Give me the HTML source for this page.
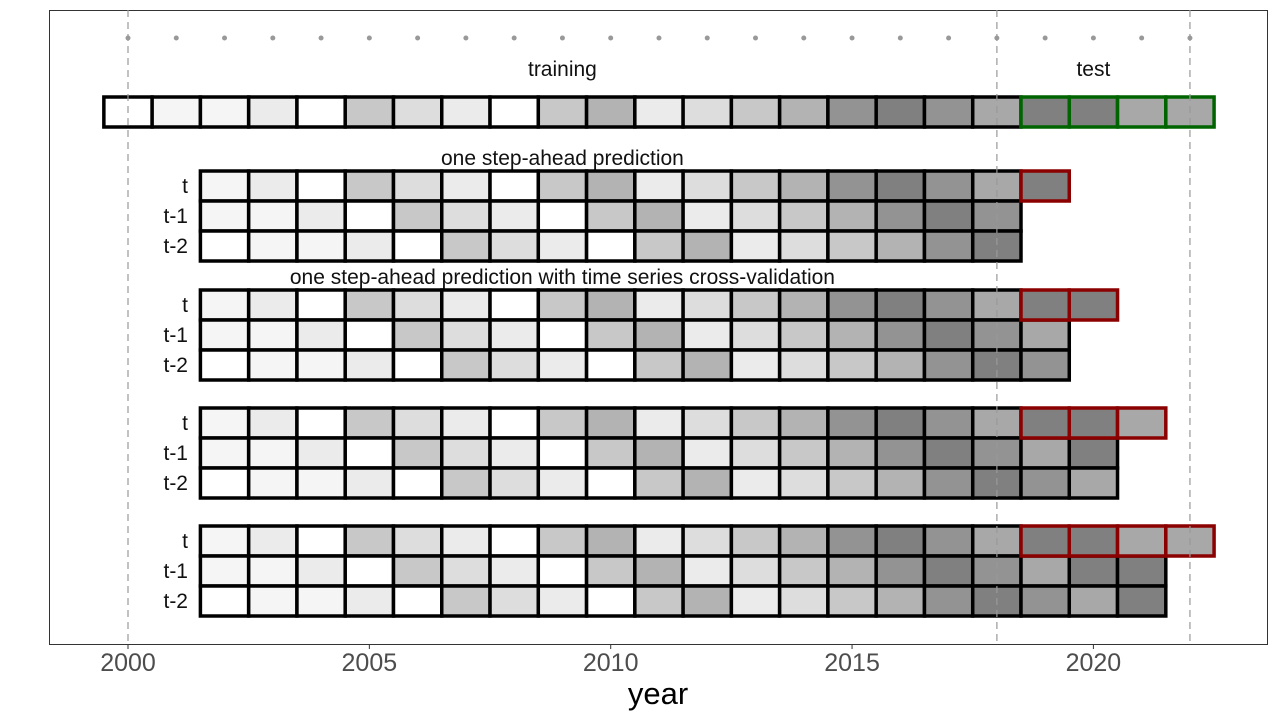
<!DOCTYPE html>
<html><head><meta charset="utf-8"><style>
body{margin:0;background:#fff}
svg{display:block;font-family:"Liberation Sans",sans-serif}
</style></head><body>
<svg id="chart" width="1280" height="720">
<rect x="49.5" y="10.5" width="1218" height="634" fill="#fff" stroke="#333" stroke-width="1"/>
<g id="layer"></g>
</svg>
<script>
const years = [2000,2001,2002,2003,2004,2005,2006,2007,2008,2009,2010,2011,2012,2013,2014,2015,2016,2017,2018,2019,2020,2021,2022];
const grayValues = [255,245,245,235,255,200,221,235,255,200,179,235,221,200,179,147,128,147,168,128,128,168,168];
const xTicks = [2000,2005,2010,2015,2020];
const dashedYears = [2000,2018,2022];
const blockTitles = ["one step-ahead prediction","one step-ahead prediction with time series cross-validation","",""];
const lagLabels = ["t","t-1","t-2"];

const NS="http://www.w3.org/2000/svg";
const g=document.getElementById('layer');
const W=48.27;
function X(y){return 128+(y-2000)*W;}
function el(tag,attrs,parent){const e=document.createElementNS(NS,tag);for(const k in attrs)e.setAttribute(k,attrs[k]);(parent||g).appendChild(e);return e;}
function grayOf(yr){const i=years.indexOf(yr);const v=grayValues[i];return `rgb(${v},${v},${v})`;}

for(const yr of years){
  const c=el('circle',{cx:X(yr),cy:38,r:2.5,fill:'#999'});
  
  
}
let t=el('text',{x:X(2009),y:76,'font-size':21,'text-anchor':'middle',fill:'#111'});t.textContent='training';

t=el('text',{x:X(2020),y:76,'font-size':21,'text-anchor':'middle',fill:'#111'});t.textContent='test';


function cell(yr,y,h,fill,stroke,name){
  const r=el('rect',{x:X(yr)-W/2,y:y,width:W,height:h,fill:fill,stroke:stroke,'stroke-width':3.5});
  
  
  return r;
}
for(const yr of years){
  if(yr<=2018) cell(yr,97,30,grayOf(yr),'#000','training-cell');
}
for(const yr of years){
  if(yr>2018) cell(yr,97,30,grayOf(yr),'#006400','test-cell');
}
const blockTops=[171,290,408,526];
blockTops.forEach((top,k)=>{
  if(blockTitles[k]){
    const tt=el('text',{x:X(2009),y:top-6,'font-size':21,'text-anchor':'middle',fill:'#111'});
    tt.textContent=blockTitles[k];
    
    
  }
  const last=2018+k+1;
  lagLabels.forEach((lab,lag)=>{
    const y=top+lag*30;
    const lt=el('text',{x:188,y:y+22,'font-size':21,'text-anchor':'end',fill:'#111'});
    lt.textContent=lab;
    
    
    const end = lag===0 ? 2018 : last-1;
    for(let yr=2002;yr<=end;yr++) cell(yr,y,30,grayOf(yr-lag),'#000','lag-cell');
  });
  for(let yr=2019;yr<=last;yr++) cell(yr,top,30,grayOf(yr),'#8b0000','prediction-cell');
});
for(const yr of dashedYears){
  const l=el('line',{x1:X(yr),x2:X(yr),y1:10,y2:644,stroke:'#999','stroke-width':1.5,'stroke-dasharray':'7,5','stroke-opacity':0.8});
  
  
}
for(const v of xTicks){
  const tk=el('line',{x1:X(v),x2:X(v),y1:645,y2:649,stroke:'#333','stroke-width':1});
  
  
  const tl=el('text',{x:X(v),y:671,'font-size':25,'text-anchor':'middle',fill:'#4d4d4d'});
  tl.textContent=v;
  
  
}
t=el('text',{x:658,y:704,'font-size':31,'text-anchor':'middle',fill:'#000'});t.textContent='year';

</script>
</body></html>
